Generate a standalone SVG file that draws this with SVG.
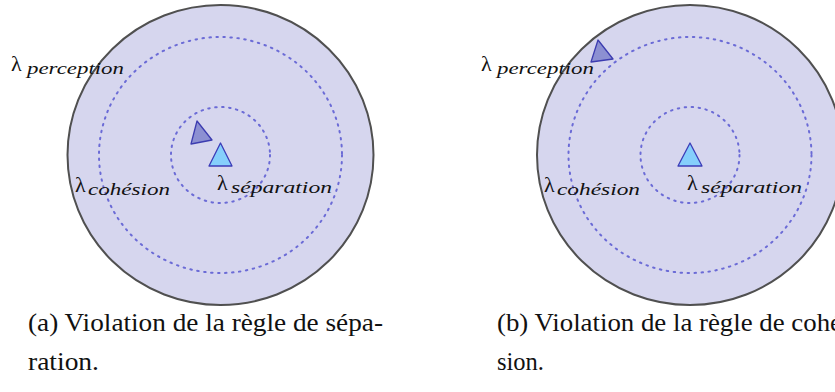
<svg xmlns="http://www.w3.org/2000/svg" width="835" height="392" viewBox="0 0 835 392">
<style>
.outer{fill:#d6d6ee;stroke:#505050;stroke-width:2}
.dot{fill:none;stroke:#6b6bd6;stroke-width:2;stroke-dasharray:1.5 5.5;stroke-linecap:round}
.me{fill:#85cffc;stroke:#3c3cb8;stroke-width:1.3;stroke-linejoin:round}
.other{fill:#8c90d2;stroke:#3c3cb0;stroke-width:1.3;stroke-linejoin:round}
.lam{font-family:'Liberation Serif','DejaVu Serif',serif;font-size:22px;fill:#111}
.sub{font-family:'Liberation Serif','DejaVu Serif',serif;font-style:italic;font-size:17px;fill:#111}
.cap{font-family:'Liberation Serif','DejaVu Serif',serif;font-size:25px;fill:#111}
</style>
<g id="panel-a">
<g id="a-zones">
<ellipse class="outer" cx="220.5" cy="155" rx="153" ry="150"/>
<ellipse class="dot" cx="220.5" cy="155" rx="121.5" ry="118"/>
<ellipse class="dot" cx="220.5" cy="155" rx="49.5" ry="48"/>
</g>
<g id="a-boid-other"><polygon class="other" points="197,121 212,140 191,144"/></g>
<g id="a-boid-self"><polygon class="me" points="220.5,143 232,166 209,166"/></g>
<g id="a-labels">
<text class="lam" x="11" y="71">λ</text><text class="sub" x="27" y="74" textLength="97" lengthAdjust="spacingAndGlyphs">perception</text>
<text class="lam" x="75" y="192">λ</text><text class="sub" x="88" y="195" textLength="82" lengthAdjust="spacingAndGlyphs">cohésion</text>
<text class="lam" x="217" y="190">λ</text><text class="sub" x="231" y="193" textLength="101" lengthAdjust="spacingAndGlyphs">séparation</text>
</g>
<g id="a-caption">
<text class="cap" x="28" y="331" textLength="355" lengthAdjust="spacingAndGlyphs">(a) Violation de la règle de sépa-</text>
<text class="cap" x="28" y="370" textLength="71" lengthAdjust="spacingAndGlyphs">ration.</text>
</g>
</g>
<g id="panel-b">
<g id="b-zones">
<ellipse class="outer" cx="690" cy="155" rx="153" ry="150"/>
<ellipse class="dot" cx="690" cy="155" rx="121.5" ry="118"/>
<ellipse class="dot" cx="690" cy="155" rx="49.5" ry="48"/>
</g>
<g id="b-boid-other"><polygon class="other" points="598,40 613,59 591,62"/></g>
<g id="b-boid-self"><polygon class="me" points="690,143 702,166 678,166"/></g>
<g id="b-labels">
<text class="lam" x="481" y="71">λ</text><text class="sub" x="497" y="74" textLength="97" lengthAdjust="spacingAndGlyphs">perception</text>
<text class="lam" x="544" y="192">λ</text><text class="sub" x="557" y="195" textLength="83" lengthAdjust="spacingAndGlyphs">cohésion</text>
<text class="lam" x="687" y="190">λ</text><text class="sub" x="701" y="193" textLength="101" lengthAdjust="spacingAndGlyphs">séparation</text>
</g>
<g id="b-caption">
<text class="cap" x="497" y="331" textLength="345" lengthAdjust="spacingAndGlyphs">(b) Violation de la règle de cohé</text>
<text class="cap" x="497" y="370" textLength="47" lengthAdjust="spacingAndGlyphs">sion.</text>
</g>
</g>
</svg>
